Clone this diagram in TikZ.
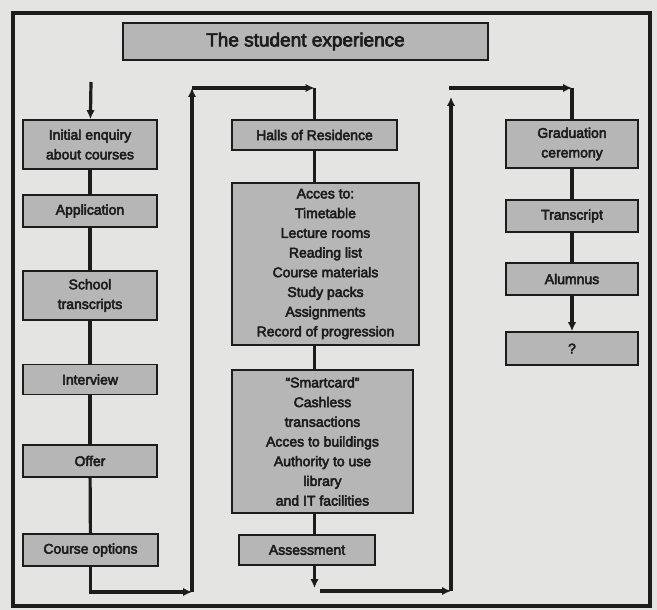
\documentclass[tikz,border=0pt]{standalone}
\usepackage{fontspec}
\setmainfont{Liberation Sans}[BoldFont={Liberation Sans},BoldFeatures={FakeBold=3.5}]
\usetikzlibrary{arrows.meta}

\definecolor{scanbg}{RGB}{228,228,226}
\definecolor{boxgray}{RGB}{182,182,182}
\definecolor{ink}{RGB}{28,28,28}

\begin{document}
\begin{tikzpicture}[x=1pt,y=-1pt,>={Latex[length=9pt,width=8.5pt]},
  box/.style={draw=ink,line width=1.6pt,fill=boxgray,inner sep=0pt,align=center,
    text=ink,font=\fontsize{14}{19.7}\selectfont\bfseries},
  link/.style={draw=ink,line width=3.2pt}]

\path[use as bounding box,fill=scanbg] (0,0) rectangle (657,610);
\draw[ink,line width=4.8pt] (13,13) rectangle (650,606);

\node[box,minimum width=365pt,minimum height=37pt,font=\fontsize{19}{22}\selectfont\bfseries] (title) at (305.5,41.5) {The student experience};

% left column
\node[box,minimum width=134pt,minimum height=49pt] (enquiry) at (90,144.5) {Initial enquiry\\about courses};
\node[box,minimum width=134pt,minimum height=32pt] (application) at (90,211) {Application};
\node[box,minimum width=134pt,minimum height=49pt] (school) at (90,295.5) {School\\transcripts};
\node[box,minimum width=134pt,minimum height=30pt] (interview) at (90,379.5) {Interview};
\node[box,minimum width=134pt,minimum height=32pt] (offer) at (90,461) {Offer};
\node[box,minimum width=135pt,minimum height=32pt] (options) at (90.5,550) {Course options};

% middle column
\node[box,minimum width=165pt,minimum height=30pt] (halls) at (314.5,135) {Halls of Residence};
\node[box,minimum width=187pt,minimum height=162pt] (access) at (325.5,264) {Acces to:\\Timetable\\Lecture rooms\\Reading list\\Course materials\\Study packs\\Assignments\\Record of progression};
\node[box,minimum width=181pt,minimum height=143pt] (smartcard) at (322.5,441.5) {``Smartcard''\\Cashless\\transactions\\Acces to buildings\\Authority to use\\library\\and IT facilities};
\node[box,minimum width=136pt,minimum height=30pt] (assessment) at (307,550) {Assessment};

% right column
\node[box,minimum width=132pt,minimum height=48pt] (graduation) at (572,144) {Graduation\\ceremony};
\node[box,minimum width=132pt,minimum height=32pt] (transcript) at (572,216) {Transcript};
\node[box,minimum width=132pt,minimum height=32pt] (alumnus) at (572,279) {Alumnus};
\node[box,minimum width=132pt,minimum height=33pt] (unknown) at (572,348.5) {?};

\coordinate (entry) at (91,82);
\coordinate (cornerLB) at (192,592);
\coordinate (cornerLT) at (192,88);
\coordinate (cornerMB) at (320,591);
\coordinate (cornerRB) at (451,591);
\coordinate (cornerRT) at (451,97);
\coordinate (topR) at (449,88);

\draw[link,->] (entry) -- (enquiry);
\foreach \a/\b in {enquiry/application,application/school,school/interview,interview/offer,offer/options,graduation/transcript,transcript/alumnus}
  \draw[link] (\a) -- (\b);
\draw[link,->] (alumnus) -- (unknown);

\draw[link] (halls) -- (halls |- access.north);
\draw[link] (halls |- access.south) -- (halls |- smartcard.north);
\draw[link] (halls |- smartcard.south) -- (halls |- assessment.north);
\draw[link,->] (halls |- assessment.south) -- (halls |- 0,588);

% loop back up to the halls
\draw[link,->] (options) |- (cornerLB);
\draw[link,->] (cornerLB) -- (cornerLT);
\draw[link,->] (cornerLT) -- (halls |- cornerLT);
\draw[link] (halls |- cornerLT) -- (halls);

% on to graduation
\draw[link,->] (cornerMB) -- (cornerRB);
\draw[link,->] (cornerRB) -- (cornerRT);
\draw[link,->] (topR) -- (graduation |- topR);
\draw[link] (graduation |- topR) -- (graduation);
\end{tikzpicture}
\end{document}
